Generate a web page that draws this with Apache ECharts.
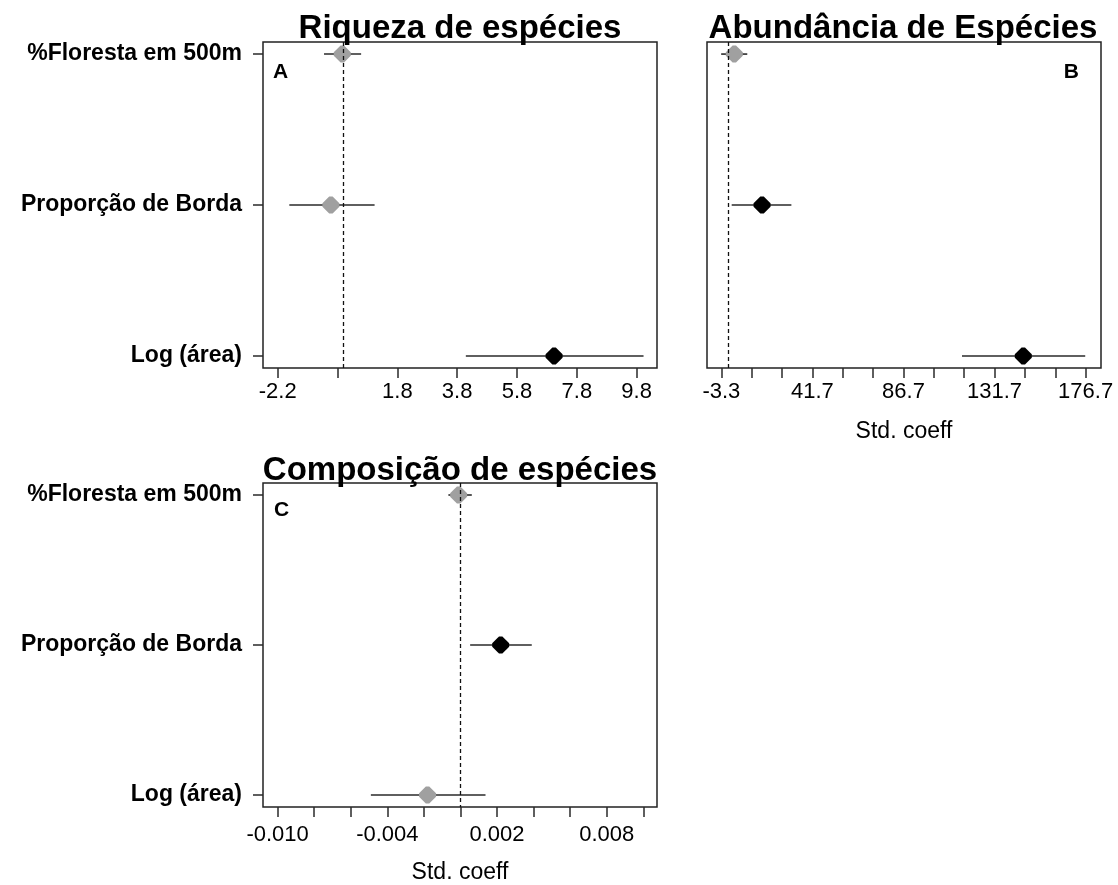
<!DOCTYPE html>
<html>
<head>
<meta charset="utf-8">
<script src="https://cdn.jsdelivr.net/npm/echarts@6/dist/echarts.min.js"></script>
<style>
  html, body { margin: 0; padding: 0; background: #fff; }
  #chart { width: 1118px; height: 885px; }
</style>
</head>
<body>
<div id="chart"></div>
<script>
// ---- Data ----
const categories = ['%Floresta em 500m', 'Proporção de Borda', 'Log (área)'];
const rows = [0, 1, 2];

const riquezaEst  = [-0.04, -0.42, 7.04];
const riquezaLow  = [-0.65, -1.81, 4.09];
const riquezaHigh = [0.59, 1.04, 10.03];

const abundEst  = [3.1, 16.8, 145.9];
const abundLow  = [-3.4, 1.8, 115.6];
const abundHigh = [9.5, 31.3, 176.5];

const composEst  = [-0.0001, 0.0022, -0.0018];
const composLow  = [-0.00066, 0.00053, -0.0049];
const composHigh = [0.00062, 0.0039, 0.00137];

const ticksA  = [-2.2, -0.2, 1.8, 3.8, 5.8, 7.8, 9.8];
const labelsA = [-2.2, 1.8, 3.8, 5.8, 7.8, 9.8];
const ticksB  = [-3.3, 11.7, 26.7, 41.7, 56.7, 71.7, 86.7, 101.7, 116.7, 131.7, 146.7, 161.7, 176.7];
const labelsB = [-3.3, 41.7, 86.7, 131.7, 176.7];
const ticksC  = [-0.010, -0.008, -0.006, -0.004, -0.002, 0.000, 0.002, 0.004, 0.006, 0.008, 0.010];
const labelsC = [-0.010, -0.004, 0.002, 0.008];

const titles = ['Riqueza de espécies', 'Abundância de Espécies', 'Composição de espécies'];
const panelLetters = ['A', 'B', 'C'];
const xName = 'Std. coeff';

// ---- Styling ----
const FONT = "'Liberation Sans', Arial, sans-serif";
const GRAY = '#a0a0a0';
const BLACK = '#000000';
const LINE = '#2a2a2a';
const MARKER = 'path://M4,0 L6,0 L10,4 L10,6 L6,10 L4,10 L0,6 L0,4 Z';

const grids = [
  { left: 263, top: 42, width: 394, height: 326 },
  { left: 707, top: 42, width: 394, height: 326 },
  { left: 263, top: 483, width: 394, height: 324 }
];

function isSig(lo, hi) { return lo > 0 || hi < 0; }

function makeX(gridIndex, min, max, ticks, labels, decimals, margin, name, nameGap) {
  return {
    type: 'value', gridIndex: gridIndex, min: min, max: max, position: 'bottom',
    axisLine: { show: false, onZero: false },
    splitLine: { show: false },
    axisTick: { show: true, length: 10, customValues: ticks, lineStyle: { color: LINE, width: 1.5 } },
    axisLabel: {
      customValues: labels, margin: margin,
      fontFamily: FONT, fontSize: 22, color: '#000',
      formatter: function (v) { return Number(v).toFixed(decimals); }
    },
    name: name || '', nameLocation: 'middle', nameGap: nameGap || 0,
    nameTextStyle: { fontFamily: FONT, fontSize: 23, color: '#000' }
  };
}

function makeY(gridIndex, showLabels) {
  return {
    type: 'value', gridIndex: gridIndex, min: -0.08, max: 2.08, inverse: true, position: 'left',
    axisLine: { show: false, onZero: false },
    splitLine: { show: false },
    axisTick: { show: showLabels, length: 10, customValues: rows, lineStyle: { color: LINE, width: 1.5 } },
    axisLabel: {
      show: showLabels, customValues: rows, margin: 21,
      fontFamily: FONT, fontSize: 23, fontWeight: 'bold', color: '#000',
      formatter: function (v) { return categories[Math.round(v)]; }
    }
  };
}

function errSeries(idx, lo, hi) {
  return {
    type: 'custom', xAxisIndex: idx, yAxisIndex: idx,
    data: rows.map(function (r) { return [lo[r], hi[r], r]; }),
    encode: { x: [0, 1], y: 2 },
    renderItem: function (params, api) {
      const y = api.value(2);
      const p1 = api.coord([api.value(0), y]);
      const p2 = api.coord([api.value(1), y]);
      return { type: 'line', shape: { x1: p1[0], y1: p1[1], x2: p2[0], y2: p2[1] },
               style: { stroke: LINE, lineWidth: 1.6 } };
    },
    z: 2, silent: true
  };
}

function pointSeries(idx, est, lo, hi) {
  return {
    type: 'scatter', xAxisIndex: idx, yAxisIndex: idx,
    symbol: MARKER, symbolSize: 17,
    data: rows.map(function (r) {
      return { value: [est[r], r], itemStyle: { color: isSig(lo[r], hi[r]) ? BLACK : GRAY, opacity: 1 } };
    }),
    z: 3, silent: true,
    markLine: {
      silent: true, symbol: 'none', label: { show: false },
      lineStyle: { type: [4, 3], color: '#111', width: 1.3 },
      data: [{ xAxis: 0 }]
    }
  };
}

const option = {
  animation: false,
  backgroundColor: '#fff',
  title: [
    { text: titles[0], left: 460, top: 12, textAlign: 'center', padding: 0,
      textStyle: { fontFamily: FONT, fontSize: 33, fontWeight: 'bold', color: '#000' } },
    { text: titles[1], left: 903, top: 12, textAlign: 'center', padding: 0,
      textStyle: { fontFamily: FONT, fontSize: 33, fontWeight: 'bold', color: '#000' } },
    { text: titles[2], left: 460, top: 454, textAlign: 'center', padding: 0,
      textStyle: { fontFamily: FONT, fontSize: 33, fontWeight: 'bold', color: '#000' } },
    { text: panelLetters[0], left: 273, top: 62, padding: 0,
      textStyle: { fontFamily: FONT, fontSize: 21, fontWeight: 'bold', color: '#000' } },
    { text: panelLetters[1], left: 1079, top: 62, textAlign: 'right', padding: 0,
      textStyle: { fontFamily: FONT, fontSize: 21, fontWeight: 'bold', color: '#000' } },
    { text: panelLetters[2], left: 274, top: 500, padding: 0,
      textStyle: { fontFamily: FONT, fontSize: 21, fontWeight: 'bold', color: '#000' } }
  ],
  grid: grids.map(function (g) {
    return Object.assign({ show: true, borderColor: '#222', borderWidth: 1.5, containLabel: false }, g);
  }),
  xAxis: [
    makeX(0, -2.69, 10.48, ticksA, labelsA, 1, 13),
    makeX(1, -10.4, 184.3, ticksB, labelsB, 1, 13, xName, 52),
    makeX(2, -0.0108, 0.01075, ticksC, labelsC, 3, 17, xName, 54)
  ],
  yAxis: [ makeY(0, true), makeY(1, false), makeY(2, true) ],
  series: [
    errSeries(0, riquezaLow, riquezaHigh), pointSeries(0, riquezaEst, riquezaLow, riquezaHigh),
    errSeries(1, abundLow, abundHigh), pointSeries(1, abundEst, abundLow, abundHigh),
    errSeries(2, composLow, composHigh), pointSeries(2, composEst, composLow, composHigh)
  ]
};

const chart = echarts.init(document.getElementById('chart'), null, { renderer: 'canvas' });
chart.setOption(option);
</script>
</body>
</html>
